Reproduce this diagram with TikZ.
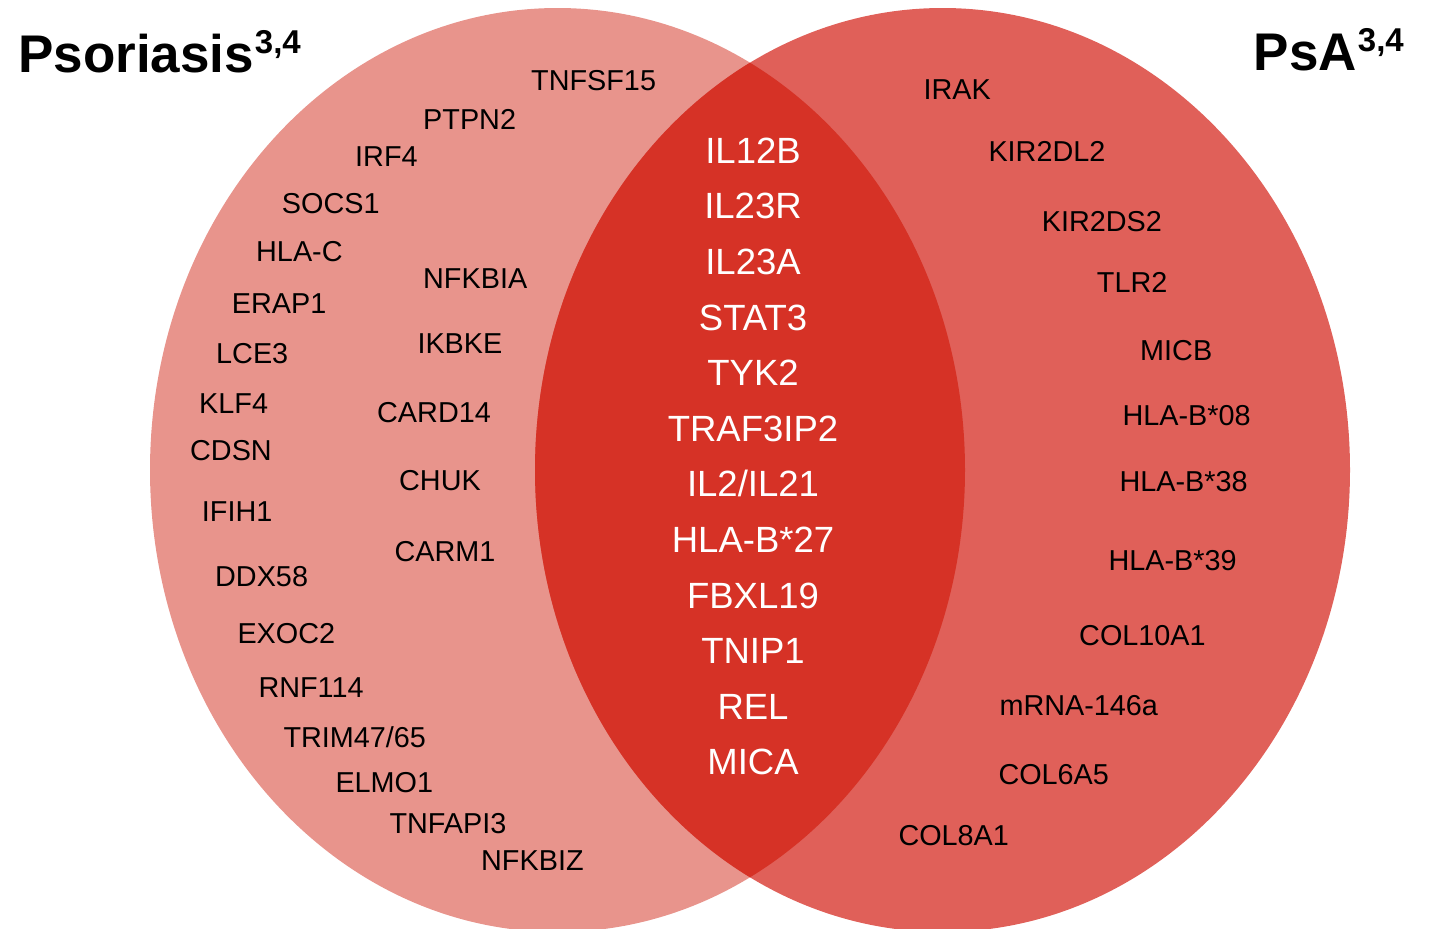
\documentclass[tikz,border=0pt]{standalone}
\usepackage{fontspec}
\setmainfont{Liberation Sans}
\definecolor{psoC}{RGB}{232,148,140}
\definecolor{psaC}{RGB}{224,96,89}
\definecolor{bothC}{RGB}{214,50,38}
\begin{document}
\begin{tikzpicture}[x=1pt,y=-1pt,
  gene/.style={font=\fontsize{28.8}{30}\selectfont, inner sep=0pt, text=black, anchor=base west},
  core/.style={font=\fontsize{36.5}{40}\selectfont, inner sep=0pt, text=white, anchor=base},
  ttl/.style={font=\fontsize{53}{58}\selectfont\bfseries, inner sep=0pt, text=black}]
\useasboundingbox (0,0) rectangle (1430,929);
\begin{scope}
\clip (0,0) rectangle (1430,929);
\fill[psoC] (557.5,470) ellipse [x radius=407.5, y radius=462];
\fill[psaC] (942.5,470) ellipse [x radius=407.5, y radius=462];
\begin{scope}
\clip (557.5,470) ellipse [x radius=407.5, y radius=462];
\fill[bothC] (942.5,470) ellipse [x radius=407.5, y radius=462];
\end{scope}
\end{scope}
% titles
\node[ttl, anchor=base west] (tpso) at (18,72) {Psoriasis\kern1pt\raisebox{19pt}{\fontsize{33}{36}\selectfont 3,4}};
\node[ttl, anchor=base east] (tpsa) at (1404,70) {PsA\kern1pt\raisebox{19pt}{\fontsize{33}{36}\selectfont 3,4}};
% psoriasis genes
\node[gene] (g1) at (531,90.7) {TNFSF15};
\node[gene] (g2) at (423,129) {PTPN2};
\node[gene] (g3) at (355,166.7) {IRF4};
\node[gene] (g4) at (281.7,213.3) {SOCS1};
\node[gene] (g5) at (256,261) {HLA-C};
\node[gene] (g6) at (423,288.3) {NFKBIA};
\node[gene] (g7) at (231.7,313.3) {ERAP1};
\node[gene] (g8) at (417.3,353.3) {IKBKE};
\node[gene] (g9) at (216,363.3) {LCE3};
\node[gene] (g10) at (199,413.3) {KLF4};
\node[gene] (g11) at (377,422) {CARD14};
\node[gene] (g12) at (190,460) {CDSN};
\node[gene] (g13) at (399,490) {CHUK};
\node[gene] (g14) at (201.7,521.5) {IFIH1};
\node[gene] (g15) at (394.3,561.7) {CARM1};
\node[gene] (g16) at (215,586.7) {DDX58};
\node[gene] (g17) at (237.3,643.3) {EXOC2};
\node[gene] (g18) at (258.3,697.3) {RNF114};
\node[gene] (g19) at (283.3,747.7) {TRIM47/65};
\node[gene] (g20) at (335.3,792.3) {ELMO1};
\node[gene] (g21) at (389.3,833.3) {TNFAPI3};
\node[gene] (g22) at (481,870.7) {NFKBIZ};
% shared genes
\node[core] (c1) at (753,163.3) {IL12B};
\node[core] (c2) at (753,218.9) {IL23R};
\node[core] (c3) at (753,274.5) {IL23A};
\node[core] (c4) at (753,330.1) {STAT3};
\node[core] (c5) at (753,385.7) {TYK2};
\node[core] (c6) at (753,441.3) {TRAF3IP2};
\node[core] (c7) at (753,496.9) {IL2/IL21};
\node[core] (c8) at (753,552.5) {HLA-B*27};
\node[core] (c9) at (753,608.1) {FBXL19};
\node[core] (c10) at (753,663.7) {TNIP1};
\node[core] (c11) at (753,719.3) {REL};
\node[core] (c12) at (753,774.9) {MICA};
% PsA genes
\node[gene] (p1) at (923.3,99.3) {IRAK};
\node[gene] (p2) at (988.3,161.7) {KIR2DL2};
\node[gene] (p3) at (1041.7,231.7) {KIR2DS2};
\node[gene] (p4) at (1096.7,292.3) {TLR2};
\node[gene] (p5) at (1140,360) {MICB};
\node[gene] (p6) at (1122.3,425.7) {HLA-B*08};
\node[gene] (p7) at (1119.3,491.7) {HLA-B*38};
\node[gene] (p8) at (1108.3,570.7) {HLA-B*39};
\node[gene] (p9) at (1079,645) {COL10A1};
\node[gene] (p10) at (999.3,715.7) {mRNA-146a};
\node[gene] (p11) at (998.3,784) {COL6A5};
\node[gene] (p12) at (898.3,845) {COL8A1};
\end{tikzpicture}
\end{document}
